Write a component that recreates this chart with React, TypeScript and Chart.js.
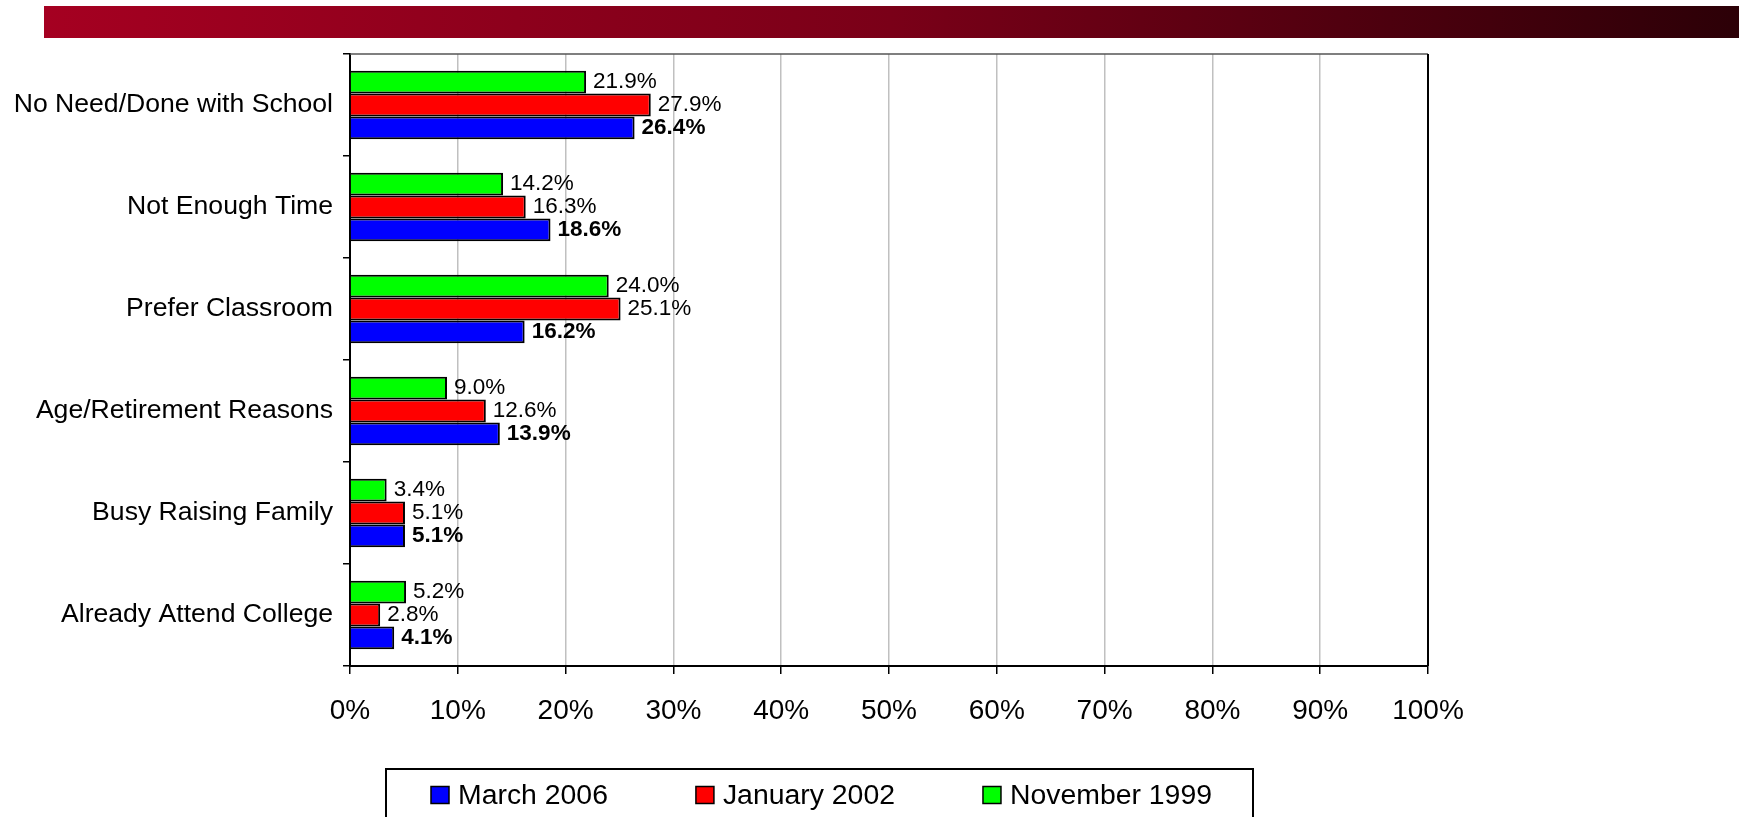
import React, { useEffect, useRef } from "react";
import { Chart, registerables } from "chart.js";

Chart.register(...registerables);

const categories = [
  "No Need/Done with School",
  "Not Enough Time",
  "Prefer Classroom",
  "Age/Retirement Reasons",
  "Busy Raising Family",
  "Already Attend College",
];
const november1999 = [21.9, 14.2, 24.0, 9.0, 3.4, 5.2];
const january2002 = [27.9, 16.3, 25.1, 12.6, 5.1, 2.8];
const march2006 = [26.4, 18.6, 16.2, 13.9, 5.1, 4.1];
const xTicks = [0, 10, 20, 30, 40, 50, 60, 70, 80, 90, 100];

const FAM = '"Liberation Sans", Arial, sans-serif';

export default function App() {
  const ref = useRef<HTMLCanvasElement | null>(null);

  useEffect(() => {
    if (!ref.current) return;
    const fsCat = 26.6;
    const fsTick = 28;
    const fsLegend = 28.4;
    const fsData = 22.5;

    const bannerPlugin = {
      id: "banner",
      beforeDraw(chart: any) {
        const ctx = chart.ctx;
        ctx.save();
        ctx.fillStyle = "#ffffff";
        ctx.fillRect(0, 0, chart.width, chart.height);
        const g = ctx.createLinearGradient(44, 0, chart.width, 0);
        g.addColorStop(0, "#a50021");
        g.addColorStop(0.5, "#7a0018");
        g.addColorStop(1, "#2c0007");
        ctx.fillStyle = g;
        ctx.fillRect(44, 6, chart.width - 44, 32);
        ctx.restore();
      },
    };

    const framePlugin = {
      id: "frame",
      afterDatasetsDraw(chart: any) {
        const ctx = chart.ctx;
        const a = chart.chartArea;
        ctx.save();
        chart.data.datasets.forEach((ds: any, di: number) => {
          const meta = chart.getDatasetMeta(di);
          meta.data.forEach((bar: any, i: number) => {
            const v = ds.data[i];
            ctx.font = `${ds.bold ? "bold " : ""}${fsData}px ${FAM}`;
            ctx.fillStyle = "#000000";
            ctx.textAlign = "left";
            ctx.textBaseline = "middle";
            ctx.fillText(`${v.toFixed(1)}%`, bar.x + 7, bar.y);
          });
        });
        ctx.strokeStyle = "#555555";
        ctx.lineWidth = 1.5;
        ctx.beginPath();
        ctx.moveTo(a.left, a.top);
        ctx.lineTo(a.right, a.top);
        ctx.stroke();
        ctx.strokeStyle = "#000000";
        ctx.lineWidth = 2;
        ctx.beginPath();
        ctx.moveTo(a.right, a.top);
        ctx.lineTo(a.right, a.bottom);
        ctx.stroke();
        ctx.restore();
      },
      afterDraw(chart: any) {
        const ctx = chart.ctx;
        ctx.save();
        ctx.strokeStyle = "#000000";
        ctx.lineWidth = 2;
        ctx.strokeRect(386, 769, 867, 80);
        ctx.font = `${fsLegend}px ${FAM}`;
        ctx.textBaseline = "middle";
        ctx.textAlign = "left";
        const items = [...chart.data.datasets].reverse();
        let x = 431;
        const cy = 795;
        items.forEach((ds: any) => {
          ctx.fillStyle = ds.backgroundColor;
          ctx.fillRect(x, cy - 8.5, 18, 17);
          ctx.lineWidth = 1.5;
          ctx.strokeStyle = "#000000";
          ctx.strokeRect(x, cy - 8.5, 18, 17);
          ctx.fillStyle = "#000000";
          ctx.fillText(ds.label, x + 27, cy + 1);
          x += 27 + ctx.measureText(ds.label).width + 88;
        });
        ctx.restore();
      },
    };

    const chart = new Chart(ref.current, {
      type: "bar",
      data: {
        labels: categories,
        datasets: [
          { label: "November 1999", data: november1999, backgroundColor: "#00ff00", borderColor: "#000000", borderWidth: 2, bold: false } as any,
          { label: "January 2002", data: january2002, backgroundColor: "#ff0000", borderColor: "#000000", borderWidth: 2, bold: false } as any,
          { label: "March 2006", data: march2006, backgroundColor: "#0000ff", borderColor: "#000000", borderWidth: 2, bold: true } as any,
        ],
      },
      options: {
        indexAxis: "y",
        animation: false,
        responsive: false,
        maintainAspectRatio: false,
        layout: { padding: { left: 0, top: 54, right: 311, bottom: 91 } },
        datasets: { bar: { categoryPercentage: 0.67, barPercentage: 1.0 } },
        plugins: { legend: { display: false }, tooltip: { enabled: false } },
        scales: {
          x: {
            min: 0,
            max: 100,
            afterBuildTicks(scale: any) {
              scale.ticks = xTicks.map((v) => ({ value: v }));
            },
            afterFit(scale: any) {
              scale.height = 60;
            },
            ticks: {
              callback: (v: any) => `${v}%`,
              color: "#000000",
              font: { family: FAM, size: fsTick },
              padding: 20,
              maxRotation: 0,
              autoSkip: false,
            },
            grid: { color: "#c0c0c0", lineWidth: 1.5, tickColor: "#000000", tickLength: 8, drawTicks: true },
            border: { color: "#000000", width: 2 },
          },
          y: {
            afterFit(scale: any) {
              scale.width = 350;
            },
            ticks: {
              color: "#000000",
              font: { family: FAM, size: fsCat },
              padding: 10,
              autoSkip: false,
            },
            grid: { display: true, drawOnChartArea: false, tickColor: "#000000", tickLength: 7, lineWidth: 1.5 },
            border: { color: "#000000", width: 2 },
          },
        },
      },
      plugins: [bannerPlugin, framePlugin],
    } as any);
    return () => chart.destroy();
  }, []);

  return (
    <div style={{ position: "fixed", left: 0, top: 0, width: 1739, height: 817, background: "#ffffff" }}>
      <canvas ref={ref} width={1739} height={817} style={{ width: 1739, height: 817, display: "block" }} />
    </div>
  );
}
